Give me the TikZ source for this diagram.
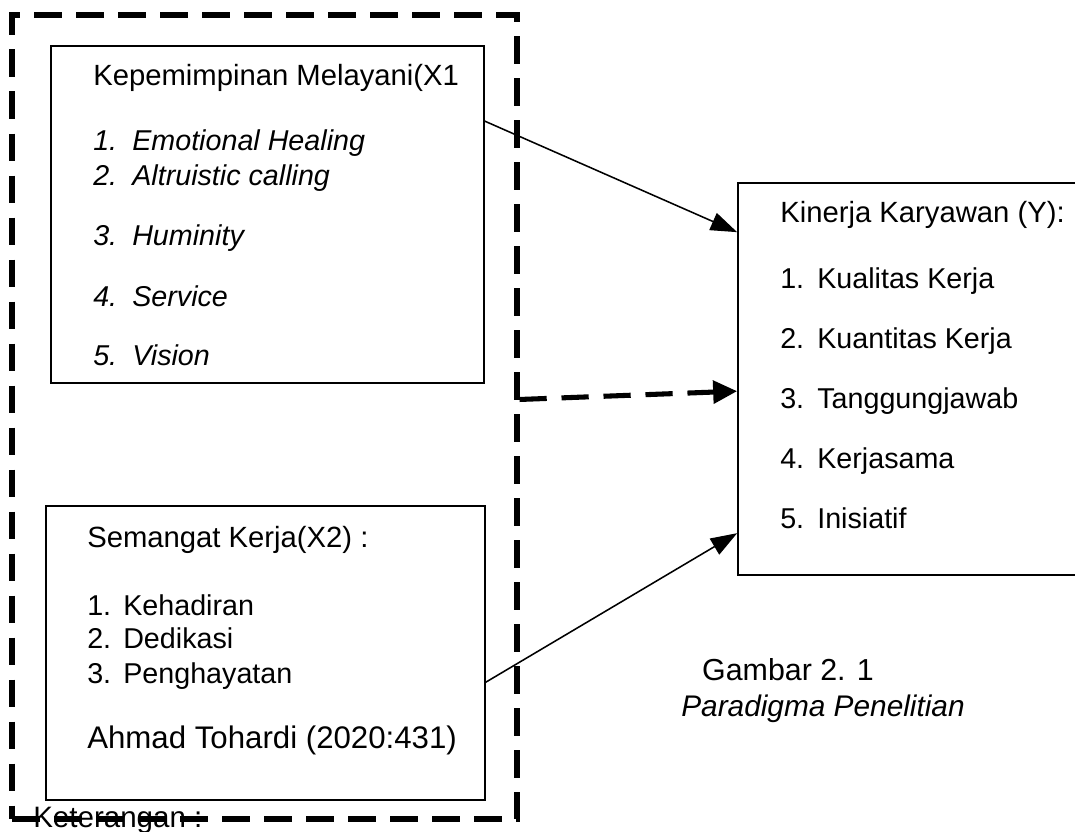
\documentclass[tikz,border=0pt]{standalone}
\usepackage{fontspec}
\setmainfont{Liberation Sans}
\usetikzlibrary{arrows.meta,positioning,calc,fit}

\tikzset{
  kotak/.style={draw, line width=1.2pt, inner sep=0pt},
  garisluar/.style={draw, line width=3.6pt, dash pattern=on 0.69cm off 0.36cm, inner sep=0pt},
  teks/.style={anchor=base west, inner sep=0pt, font=\fontsize{20.4}{24}\selectfont},
  judul/.style={teks, font=\fontsize{20.8}{25}\selectfont},
  miring/.style={teks, font=\fontsize{20.4}{24}\selectfont\itshape},
  panah/.style={-{Triangle[length=0.66cm,width=0.46cm]}, line width=1.1pt},
}

\begin{document}
\begin{tikzpicture}[x=0.025cm,y=-0.025cm]
  \useasboundingbox (0,0) rectangle (1075,831);
  % kotak variabel
  \node[kotak, fit={(51,46) (484,383)}] (x1) {};
  \node[kotak, fit={(46,506) (485,800)}] (x2) {};
  \node[kotak, fit={(738,183) (1095,575)}] (ky) {};

  \node[judul] (jx1) at (93,85) {Kepemimpinan Melayani(X1};
  \foreach \i/\y/\isi in {1/150/Emotional Healing,2/185/Altruistic calling,3/245/Huminity,4/306/Service,5/365/Vision}{
    \node[miring] (nx1\i) at (93,\y) {\i.};
    \node[miring] (ix1\i) at (132,\y) {\isi};
  }

  \node[judul] (jx2) at (87,547) {Semangat Kerja(X2) :};
  \foreach \i/\y/\isi in {1/615/Kehadiran,2/648/Dedikasi,3/683/Penghayatan}{
    \node[teks] (nx2\i) at (87,\y) {\i.};
    \node[teks] (ix2\i) at (123,\y) {\isi};
  }
  \node[teks, font=\fontsize{22.2}{26}\selectfont] (sumber) at (87,748) {Ahmad Tohardi (2020:431)};

  \node[judul] (jy) at (780,222) {Kinerja Karyawan (Y):};
  \foreach \i/\y/\isi in {1/288/Kualitas Kerja,2/348/Kuantitas Kerja,3/408/Tanggungjawab,4/468/Kerjasama,5/528/Inisiatif}{
    \node[teks] (ny\i) at (780,\y) {\i.};
    \node[teks] (iy\i) at (817,\y) {\isi};
  }

  \node[teks, anchor=base, font=\fontsize{21.6}{26}\selectfont] (gbr) at (788,680) {Gambar 2. 1};
  \node[teks, anchor=base, font=\fontsize{21.2}{25}\selectfont\itshape] (namagbr) at (823,716) {Paradigma Penelitian};

  \node[teks, font=\fontsize{21}{25}\selectfont] (ket) at (33,827) {Keterangan :};
  % garis putus-putus (simultan)
  \node[garisluar, fit={(12,15) (517,819)}] (luar) {};

  \draw[panah] ($(x1.north east)+(0,76)$) -- ($(ky.north west)+(0,50)$);
  \draw[panah, line width=3.6pt, dash pattern=on 0.68cm off 0.37cm, -{Triangle[length=0.6cm,width=0.56cm]}]
    ($(luar.north east)+(0,387)$) -- ($(ky.north west)+(0,209)$);
  \draw[panah] ($(x2.north east)+(0,177)$) -- ($(ky.north west)+(0,351)$);
\end{tikzpicture}
\end{document}
